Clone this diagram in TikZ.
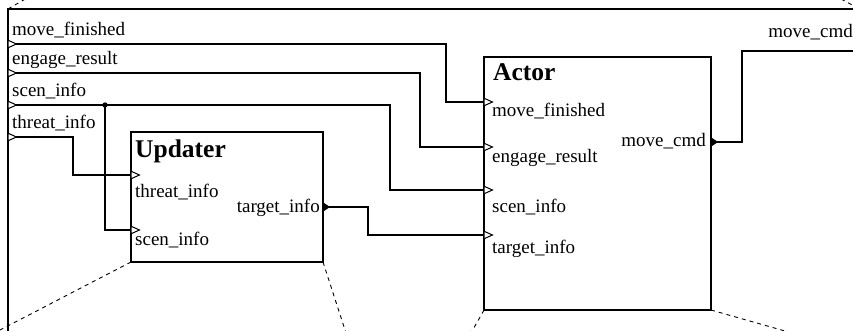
\documentclass[tikz,border=0pt]{standalone}
\usepackage{fontspec}
\setmainfont{Liberation Serif}
\usetikzlibrary{calc}
\begin{document}
\begin{tikzpicture}[x=1pt,y=-1pt,
  wire/.style={line width=1.2pt},
  frameline/.style={line width=2.8pt},
  boxnode/.style={draw, line width=2pt, rectangle, inner sep=0pt, outer sep=0pt, anchor=north west},
  proj/.style={line width=0.9pt, dash pattern=on 4pt off 4pt},
  lbl/.style={inner sep=0pt, font=\fontsize{19}{22}\selectfont},
  ttl/.style={inner sep=0pt, font=\fontsize{25.5}{30}\selectfont\bfseries},
  inport/.pic={\draw[line width=1pt, fill=white] (0,-3.8) -- (8.5,0) -- (0,3.8) -- cycle;},
  outport/.pic={\fill (0,-4.7) -- (7,0) -- (0,4.7) -- cycle;}
]
\useasboundingbox (0,0) rectangle (853,331);

% projection (dashed) lines
\draw[proj] (8,9) -- (27,-2);
\draw[proj] (841,-1) -- (856,7);

% outer frame
\coordinate (fbl) at (8,334);
\coordinate (ftl) at (8,9);
\coordinate (ftr) at (856,9);
\draw[frameline] (fbl) -- (ftl) -- (ftr);

% boxes
\node[boxnode, minimum width=192pt, minimum height=130pt] (upd) at (131,132) {};
\node[boxnode, minimum width=227pt, minimum height=253pt] (act) at (484,57) {};

\draw[proj] (upd.south west) -- (-2,331);
\draw[proj] (upd.south east) -- (346,333);
\draw[proj] (act.south west) -- (471,333);
\draw[proj] (act.south east) -- (792,333);

% titles
\node[ttl, anchor=base west] (updT) at (135,158) {Updater};
\node[ttl, anchor=base west] (actT) at (493,81) {Actor};

% frame labels
\node[lbl, anchor=base west] (lMF) at (12,36) {move\_finished};
\node[lbl, anchor=base west] (lER) at (12,65) {engage\_result};
\node[lbl, anchor=base west] (lSI) at (12,97) {scen\_info};
\node[lbl, anchor=base west] (lTI) at (12,129) {threat\_info};
\node[lbl, anchor=base east] (lMC) at (853,38) {move\_cmd};

% updater labels
\node[lbl, anchor=base west] (uTIl) at (135,197) {threat\_info};
\node[lbl, anchor=base west] (uSIl) at (135,245) {scen\_info};
\node[lbl, anchor=base east] (uTOl) at (320,212) {target\_info};

% actor labels
\node[lbl, anchor=base west] (aMFl) at (492,117) {move\_finished};
\node[lbl, anchor=base west] (aERl) at (492,163) {engage\_result};
\node[lbl, anchor=base west] (aSIl) at (492,212) {scen\_info};
\node[lbl, anchor=base west] (aTIl) at (492,253) {target\_info};
\node[lbl, anchor=base east] (aMCl) at (706,147) {move\_cmd};

% port coordinates
\coordinate (fMF) at (8,44);
\coordinate (fER) at (8,73);
\coordinate (fSI) at (8,105);
\coordinate (fTI) at (8,137);
\coordinate (fMC) at (856,51);
\coordinate (uTI) at (131,175);
\coordinate (uSI) at (131,230);
\coordinate (uTO) at (323,207);
\coordinate (aMF) at (484,102);
\coordinate (aER) at (484,147);
\coordinate (aSI) at (484,190);
\coordinate (aTI) at (484,235);
\coordinate (aMC) at (711,142);
\coordinate (junc) at (105,105);

% wires
\draw[wire] (fMF) -- ++(438,0) |- (aMF);
\draw[wire] (fER) -- ++(412,0) |- (aER);
\draw[wire] (fSI) -- ++(382,0) |- (aSI);
\draw[wire] (junc) |- (uSI);
\draw[wire] (fTI) -- ++(65,0) |- (uTI);
\draw[wire] (uTO) -- ++(45,0) |- (aTI);
\draw[wire] (aMC) -- ++(31,0) |- (fMC);
\fill (junc) circle (2.7pt);

% port glyphs
\foreach \p in {fMF,fER,fSI,fTI} { \pic at (\p) {inport}; }
\foreach \p in {uTI,uSI,aMF,aER,aSI,aTI} { \pic at (\p) {inport}; }
\foreach \p in {uTO,aMC} { \pic at (\p) {outport}; }
\end{tikzpicture}
\end{document}
